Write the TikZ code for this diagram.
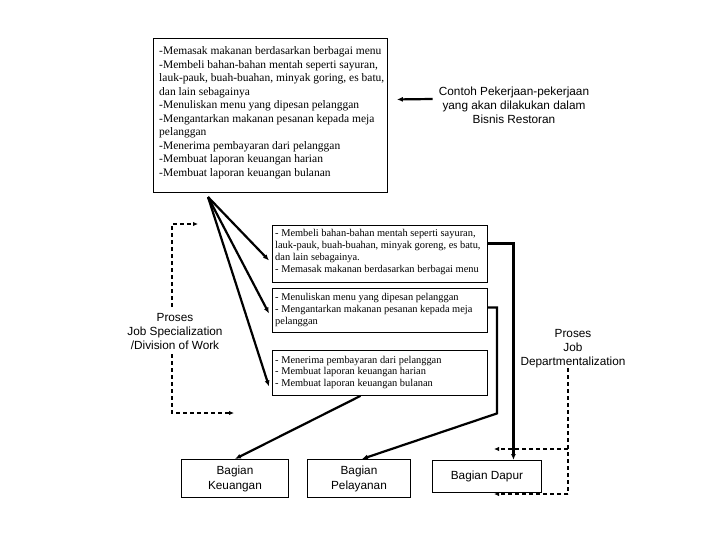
\documentclass[tikz,border=0pt]{standalone}
\usepackage{fontspec}
\setmainfont{Liberation Serif}
\setsansfont{Liberation Sans}
\usetikzlibrary{arrows.meta}
\begin{document}
\begin{tikzpicture}[x=1pt,y=-1pt,
  box/.style={draw, line width=0.9pt, inner sep=0pt, anchor=north west},
  labelbox/.style={box, align=center, font=\sffamily\fontsize{11.8}{15}\selectfont},
  serifA/.style={anchor=west, align=left, inner sep=0pt, font=\rmfamily\fontsize{11.5}{13.5}\selectfont},
  serifB/.style={anchor=west, align=left, inner sep=0pt, font=\rmfamily\fontsize{10.4}{11.8}\selectfont},
  sanslabel/.style={align=center, inner sep=0pt, font=\sffamily\fontsize{11.8}{14}\selectfont},
  conn/.style={line width=2.2pt, line join=miter, -{Latex[length=6pt,width=5pt]}},
  dashline/.style={line width=1.4pt, dash pattern=on 4pt off 3pt},
  dashconn/.style={dashline, -{Latex[length=5pt,width=4.5pt]}}
]
\useasboundingbox (0,0) rectangle (720,540);
\fill[white] (0,0) rectangle (720,540);

% top box
\node[box, minimum width=234pt, minimum height=154pt] (top) at (153,38) {};
\node[serifA] (toptext) at (159,113) {-Memasak makanan berdasarkan berbagai menu\\
-Membeli bahan-bahan mentah seperti sayuran,\\
lauk-pauk, buah-buahan, minyak goring, es batu,\\
dan lain sebagainya\\
-Menuliskan menu yang dipesan pelanggan\\
-Mengantarkan makanan pesanan kepada meja\\
pelanggan\\
-Menerima pembayaran dari pelanggan\\
-Membuat laporan keuangan harian\\
-Membuat laporan keuangan bulanan};

% note
\node[sanslabel] (note) at (514,105) {Contoh Pekerjaan-pekerjaan\\yang akan dilakukan dalam\\Bisnis Restoran};
\draw[conn] ([xshift=-6pt,yshift=6pt]note.west) -- ([xshift=9pt,yshift=16pt]top.east);

% middle boxes
\node[box, minimum width=215pt, minimum height=57pt] (boxA) at (272,225) {};
\node[serifB] (textA) at (275,252) {- Membeli bahan-bahan mentah seperti sayuran,\\
lauk-pauk, buah-buahan, minyak goreng, es batu,\\
dan lain sebagainya.\\
- Memasak makanan berdasarkan berbagai menu};
\node[box, minimum width=215pt, minimum height=44pt] (boxB) at (272,288) {};
\node[serifB] (textB) at (275,310) {- Menuliskan menu yang dipesan pelanggan\\
- Mengantarkan makanan pesanan kepada meja\\
pelanggan};
\node[box, minimum width=215pt, minimum height=45pt] (boxC) at (272,350) {};
\node[serifB] (textC) at (275,372.5) {- Menerima pembayaran dari pelanggan\\
- Membuat laporan keuangan harian\\
- Membuat laporan keuangan bulanan};

% bottom boxes
\node[labelbox, minimum width=107pt, minimum height=38pt] (keuangan) at (181,459) {Bagian\\Keuangan};
\node[labelbox, minimum width=103pt, minimum height=38pt] (pelayanan) at (307,459) {Bagian\\Pelayanan};
\node[labelbox, minimum width=109pt, minimum height=32pt] (dapur) at (432,460) {Bagian Dapur};

% side labels
\node[sanslabel] (proses1) at (175,331) {Proses\\Job Specialization\\/Division of Work};
\node[sanslabel] (proses2) at (573,349) {Proses\\Job\\Departmentalization};

% connectors from top box
\coordinate (src) at (208,197);
\draw[conn] (src) -- ([xshift=-3pt,yshift=-6.5pt]boxA.west);
\draw[conn] (src) -- ([xshift=-3pt,yshift=-3pt]boxB.west);
\draw[conn] (src) -- ([xshift=-3pt,yshift=-13.5pt]boxC.west);

% connectors to bottom boxes
\draw[conn] ([yshift=10.5pt]boxA.east) -| ([xshift=26.5pt]dapur.north);
\draw[conn] ([yshift=3pt]boxB.east) -- ++(9,0) -- ++(0,106) -- ([xshift=3pt]pelayanan.north);
\draw[conn] ([xshift=-19.5pt]boxC.south) -- (keuangan.north);

% left dashed bracket
\coordinate (Ltop) at (172,224);
\coordinate (LtopTip) at (198,224);
\coordinate (LgapTop) at (172,307);
\coordinate (LgapBot) at (172,354);
\coordinate (Lbot) at (172,413);
\coordinate (LbotTip) at (234,413);
\draw[dashconn] (LgapTop) -- (Ltop) -- (LtopTip);
\draw[dashconn] (LgapBot) -- (Lbot) -- (LbotTip);

% right dashed bracket
\coordinate (Rstart) at (568,368);
\coordinate (Rmid) at (568,449);
\coordinate (Rbot) at (568,494);
\coordinate (RmidTip) at (494,449);
\coordinate (RbotTip) at (494,494);
\draw[dashline] (Rstart) -- (Rbot);
\draw[dashconn] (Rmid) -- (RmidTip);
\draw[dashconn] (Rbot) -- (RbotTip);
\end{tikzpicture}
\end{document}
